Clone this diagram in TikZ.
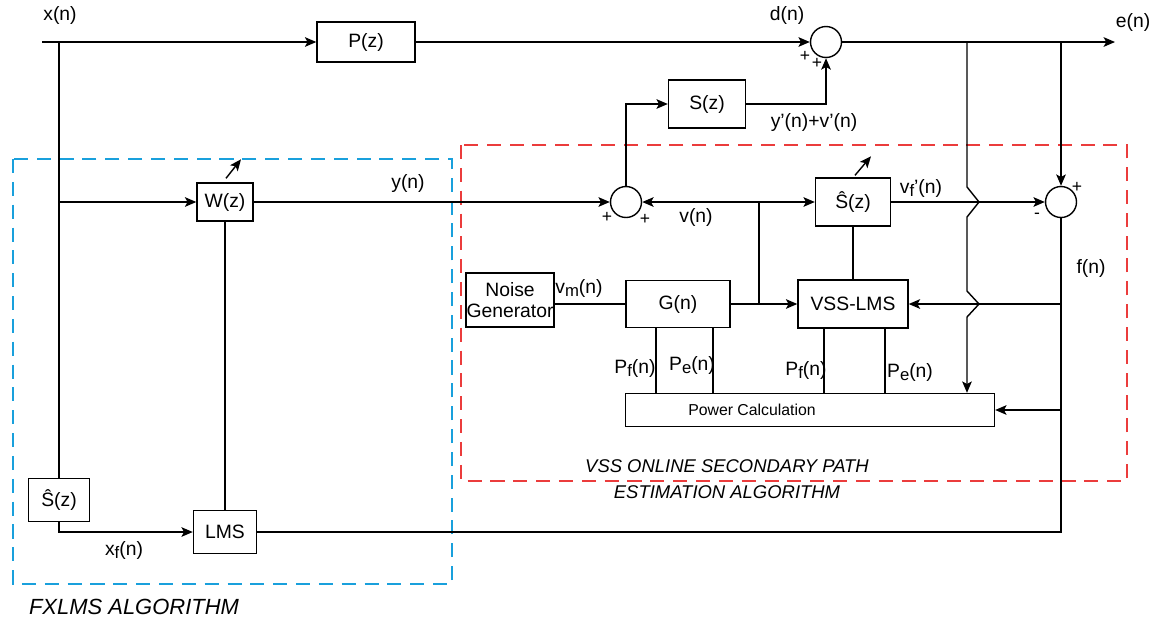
\documentclass[tikz,border=0pt]{standalone}
\usepackage{fontspec}
\setmainfont{Liberation Sans}
\usepackage{xcolor}
\usetikzlibrary{calc, positioning, arrows.meta}

\definecolor{fxblue}{RGB}{25,160,220}
\definecolor{vssred}{RGB}{235,60,60}
\newcommand{\sigsub}[1]{\raisebox{-0.35ex}{\fontsize{9.5}{9.5}\selectfont #1}}

\begin{document}
\begin{tikzpicture}[>={Stealth[length=6.5pt, width=5.5pt, inset=1.5pt]}, x=0.02cm, y=-0.02cm, line width=0.8pt,
    every node/.style={font=\fontsize{11}{12}\selectfont},
    blk/.style={draw, inner sep=0pt, align=center},
    sumnode/.style={draw, circle, minimum size=0.62cm, inner sep=0pt},
    sgn/.style={inner sep=0pt, font=\fontsize{10}{10}\selectfont},
    grp/.style={dash pattern=on 8pt off 5pt, line width=0.7pt}]
    \useasboundingbox (0,0) rectangle (1162,620);

    % Khung nhóm thuật toán
    \draw[grp, fxblue] (13,159) rectangle (452,584);
    \draw[grp, vssred] (461,145) rectangle (1127,481);

    % Các khối
    \node[blk, minimum width=1.96cm, minimum height=0.8cm] (pz) at (366,42) {P(z)};
    \node[blk, minimum width=1.54cm, minimum height=0.96cm] (sz) at (707,104) {S(z)};
    \node[blk, minimum width=1.12cm, minimum height=0.76cm] (wz) at (225,202) {W(z)};
    \node[blk, minimum width=1.5cm, minimum height=0.96cm] (shat) at (853,202) {Ŝ(z)};
    \node[blk, minimum width=2.2cm, minimum height=0.96cm] (vss) at (853,304) {VSS-LMS};
    \node[blk, minimum width=2.08cm, minimum height=0.94cm] (gn) at (678,304) {G(n)};
    \node[blk, minimum width=1.76cm, minimum height=1.08cm] (noise) at (510,300) {Noise\\Generator};
    \node[blk, minimum width=7.38cm, minimum height=0.66cm] (pow) at (810,410) {};
    \node[font=\fontsize{9}{10}\selectfont] (powtxt) at (752,410) {Power Calculation};
    \node[blk, minimum width=1.22cm, minimum height=0.86cm] (shatf) at (59,500) {Ŝ(z)};
    \node[blk, minimum width=1.26cm, minimum height=0.86cm] (lms) at (225,532) {LMS};

    % Bộ cộng
    \node[sumnode] (s1) at (826,42) {};
    \node[sumnode] (s2) at (1061,202) {};
    \node[sumnode] (s3) at (626,202) {};

    % Điểm rẽ nhánh
    \coordinate (xin) at (42,42);
    \coordinate (xj) at (59,42);
    \coordinate (xw) at (59,202);
    \coordinate (eout) at (1115,42);
    \coordinate (ej1) at (967,42);
    \coordinate (ej2) at (1061,42);
    \coordinate (gj) at (759,304);
    \coordinate (vj) at (759,202);
    \coordinate (fv) at (1061,304);
    \coordinate (fp) at (1061,410);

    % Đường tín hiệu chính
    \draw[->] (xin) -- (pz);
    \draw[->] (pz) -- (s1);
    \draw[->] (s1) -- (eout);
    \draw (xj) -- (shatf);
    \draw[->] (xw) -- (wz);
    \draw[->] (wz) -- (s3);
    \draw[->] (s3) |- (sz);
    \draw[->] (sz) -| (s1);
    \draw[->] (shatf) |- (lms);
    \draw (lms) -- (wz);
    \draw (lms) -| (s2);
    \draw[->] (ej2) -- (s2);
    \draw[->] (shat) -- (s2);

    % Khối ước lượng trực tuyến
    \draw (noise.east |- gn.west) -- (gn.west);
    \draw[->] (gn) -- (vss);
    \draw (gj) -- (vj);
    \draw[->] (vj) -- (s3);
    \draw[->] (vj) -- (shat);
    \draw (shat) -- (vss);
    \draw[->] (fv) -- (vss);
    \draw[->] (fp) -- (pow);
    \draw ([xshift=-0.44cm]gn.south) -- ([xshift=-0.44cm]gn.south |- pow.north);
    \draw ([xshift=0.7cm]gn.south) -- ([xshift=0.7cm]gn.south |- pow.north);
    \draw ([xshift=-0.58cm]vss.south) -- ([xshift=-0.58cm]vss.south |- pow.north);
    \draw ([xshift=0.64cm]vss.south) -- ([xshift=0.64cm]vss.south |- pow.north);

    % e(n) nhảy qua hai đường ngang
    \draw[->] (ej1) -- ($(ej1 |- s2)+(0,-15)$) -- ($(ej1 |- s2)+(12,0)$)
        -- ($(ej1 |- s2)+(0,15)$) -- ($(ej1 |- vss)+(0,-13)$)
        -- ($(ej1 |- vss)+(12,0)$) -- ($(ej1 |- vss)+(0,13)$) -- (ej1 |- pow.north);

    % Mũi tên thích nghi
    \draw[->] ($(wz.north)+(1,-4)$) -- ++(15,-19);
    \draw[->] ($(shat.north)+(2,-2)$) -- ++(16,-19);

    % Nhãn tín hiệu
    \node (xlbl) at (60,15) {x(n)};
    \node (dlbl) at (787,15) {d(n)};
    \node (elbl) at (1133,22) {e(n)};
    \node (ylbl) at (408,183) {y(n)};
    \node (vlbl) at (696,217) {v(n)};
    \node (yvlbl) at (814,122) {y'(n)+v'(n)};
    \node (vflbl) at (921,188) {v\sigsub{f}'(n)};
    \node (flbl) at (1091,268) {f(n)};
    \node (vmlbl) at (579,288) {v\sigsub{m}(n)};
    \node (pf1) at (635,368) {P\sigsub{f}(n)};
    \node (pe1) at (692,365) {P\sigsub{e}(n)};
    \node (pf2) at (806,370) {P\sigsub{f}(n)};
    \node (pe2) at (910,372) {P\sigsub{e}(n)};
    \node (xflbl) at (124,550) {x\sigsub{f}(n)};

    % Dấu của bộ cộng
    \node[sgn] (p1a) at (805,56) {+};
    \node[sgn] (p1b) at (817,63) {+};
    \node[sgn] (p3a) at (607,217) {+};
    \node[sgn] (p3b) at (645,219) {+};
    \node[sgn] (p2a) at (1077,187) {+};
    \node[sgn] (m2) at (1037,216) {-};

    % Tên thuật toán
    \node[font=\fontsize{12.5}{14}\selectfont\itshape] (fxlbl) at (134,607) {FXLMS ALGORITHM};
    \node[font=\fontsize{10.5}{14.5}\selectfont\itshape, align=center] (vsslbl) at (727,479)
        {VSS ONLINE SECONDARY PATH\\ESTIMATION ALGORITHM};
\end{tikzpicture}
\end{document}
